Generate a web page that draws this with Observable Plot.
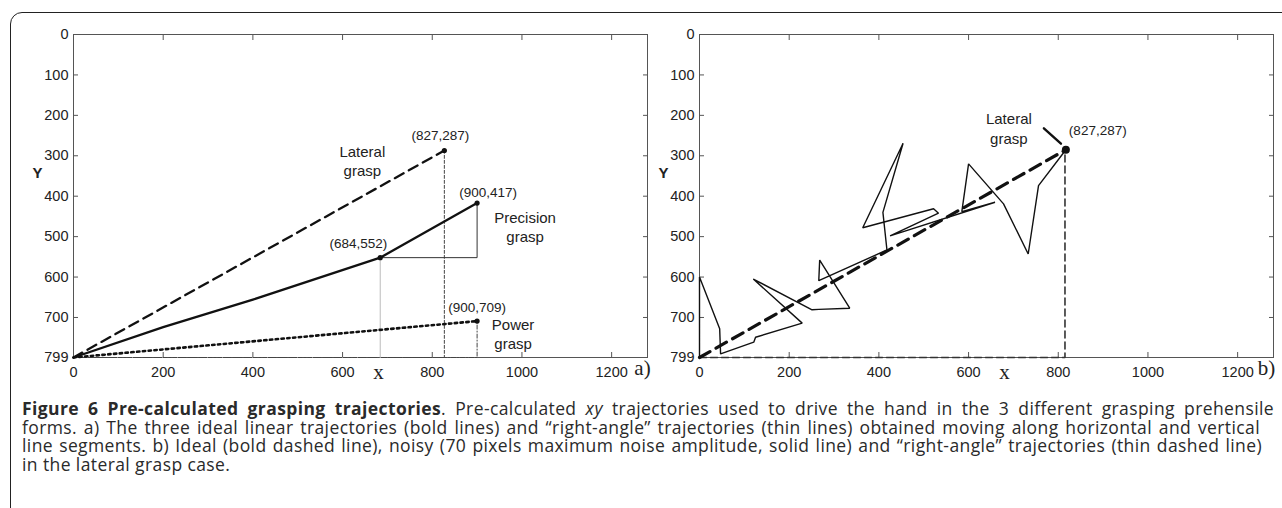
<!DOCTYPE html>
<html><head><meta charset="utf-8">
<script src="https://cdn.jsdelivr.net/npm/d3@7"></script>
<script src="https://cdn.jsdelivr.net/npm/@observablehq/plot@0.6"></script>
<style>
html,body{margin:0;padding:0;background:#fff;width:1282px;height:508px;overflow:hidden;position:relative;}
#box{position:absolute;left:10px;top:12px;width:1300px;height:540px;border:1.6px solid #222;border-radius:12px;box-sizing:border-box;}
#left{position:absolute;left:0;top:0;}
#right{position:absolute;left:630px;top:0;}
#caption{position:absolute;left:22px;top:399px;font-family:"Open Sans",sans-serif;font-size:17.5px;letter-spacing:0.4px;line-height:18.6px;color:#2a2a2a;}
#caption div{white-space:nowrap;text-align:justify;text-align-last:justify;}
#caption div.last{text-align:left;text-align-last:left;}
</style>
</head><body>
<div id="box"></div>
<div id="left"></div>
<div id="right"></div>
<div id="caption">
<div style="width:1252px"><b>Figure 6 Pre-calculated grasping trajectories</b>. Pre-calculated <i>xy</i> trajectories used to drive the hand in the 3 different grasping prehensile</div>
<div style="width:1238px">forms. a) The three ideal linear trajectories (bold lines) and “right-angle” trajectories (thin lines) obtained moving along horizontal and vertical</div>
<div style="width:1240px">line segments. b) Ideal (bold dashed line), noisy (70 pixels maximum noise amplitude, solid line) and “right-angle” trajectories (thin dashed line)</div>
<div class="last">in the lateral grasp case.</div>
</div>
<script>
// ---- data ----
const xTicks = [0, 200, 400, 600, 800, 1000, 1200];
const yTicks = [0, 100, 200, 300, 400, 500, 600, 700, 799];

// panel a: ideal trajectories
const lateralIdeal = [[0, 799], [827, 287]];
const precisionIdeal = [[0, 799], [200, 724], [400, 656], [684, 552], [900, 417]];
const powerIdeal = [[0, 799], [900, 709]];
// panel a: right-angle trajectories
const lateralRightAngle = [[0, 799], [827, 799], [827, 287]];
const precisionBase = [[0, 799], [684, 799]];
const precisionRise = [[684, 799], [684, 552]];
const precisionStep = [[684, 552], [900, 552], [900, 417]];
const powerRightAngle = [[0, 799], [900, 799], [900, 709]];
// panel a: labelled points
const lateralTarget = [827, 287];
const precisionVia = [684, 552];
const precisionTarget = [900, 417];
const powerTarget = [900, 709];

// panel b (lateral grasp)
const idealB = [[0, 799], [817, 285]];
const rightAngleB = [[0, 799], [815, 799], [815, 285]];
const noisyB = [[0, 799], [0, 600], [45, 728], [47, 790], [121, 761], [125, 749], [229, 714], [120, 605],
  [251, 681], [266, 680], [335, 677], [268, 558], [266, 609], [418, 533], [409, 440], [454, 269],
  [364, 478], [522, 431], [533, 442], [425, 498], [659, 415], [585, 438], [600, 320], [678, 419],
  [733, 543], [756, 374], [817, 285]];
const endB = [817, 285];
const pointerB = [[768, 232], [806, 270]];

const names = {lateral: "Lateral\ngrasp", precision: "Precision\ngrasp", power: "Power\ngrasp"};
const fmt = (p) => `(${p[0]},${p[1]})`;
const plain = (d) => `${d}`;

// ---- shared layout ----
const font = "'Liberation Sans', Arial, sans-serif";
function axes() {
  return [
    Plot.frame({stroke: "#555", strokeWidth: 1}),
    Plot.axisX(xTicks, {anchor: "bottom", tickSize: 0, tickPadding: 9, tickFormat: plain, fontSize: 14.5, fill: "#222", label: null}),
    Plot.axisX(xTicks, {anchor: "bottom", tickSize: -5, fill: "none", stroke: "#555", label: null}),
    Plot.axisX(xTicks, {anchor: "top", tickSize: -5, fill: "none", stroke: "#555", label: null}),
    Plot.axisY(yTicks, {anchor: "left", tickSize: 0, tickPadding: 5, tickFormat: plain, fontSize: 14.5, fill: "#222", label: null}),
    Plot.axisY(yTicks, {anchor: "left", tickSize: -5, fill: "none", stroke: "#555", label: null}),
    Plot.axisY(yTicks, {anchor: "right", tickSize: -5, fill: "none", stroke: "#555", label: null}),
    Plot.text(["Y"], {frameAnchor: "left", dx: -41, dy: -23, fontSize: 15, fontWeight: "bold", fill: "#222"}),
    Plot.text(["x"], {frameAnchor: "bottom", dx: 18, dy: 21, fontSize: 21, fontFamily: "'Liberation Serif', serif", fill: "#222"})
  ];
}

const left = Plot.plot({
  width: 655, height: 395,
  marginLeft: 73, marginRight: 8, marginTop: 34, marginBottom: 38,
  x: {domain: [0, 1280]},
  y: {domain: [0, 799], reverse: true},
  style: {fontFamily: font, fontSize: "14.5px", color: "#222", background: "transparent", overflow: "visible"},
  marks: [
    ...axes(),
    // right-angle (thin) trajectories
    Plot.line(precisionBase, {stroke: "#888", strokeWidth: 1}),
    Plot.line(lateralRightAngle, {stroke: "#444", strokeWidth: 1, strokeDasharray: "3,2"}),
    Plot.line(powerRightAngle, {stroke: "#444", strokeWidth: 1, strokeDasharray: "4,2,1,2"}),
    Plot.line(precisionRise, {stroke: "#bbb", strokeWidth: 1}),
    Plot.line(precisionStep, {stroke: "#333", strokeWidth: 1}),
    // ideal (bold) trajectories
    Plot.line(lateralIdeal, {stroke: "#111", strokeWidth: 2.3, strokeDasharray: "10,6"}),
    Plot.line(precisionIdeal, {stroke: "#111", strokeWidth: 2.3}),
    Plot.line(powerIdeal, {stroke: "#111", strokeWidth: 2.6, strokeDasharray: "2.4,3.4"}),
    Plot.dot([lateralTarget, precisionVia, precisionTarget, powerTarget], {r: 2.6, fill: "#111"}),
    // labels
    Plot.text([lateralTarget], {text: fmt, dx: -4, dy: -15, fontSize: 13.5, fill: "#222"}),
    Plot.text([precisionTarget], {text: fmt, dx: 11, dy: -10, fontSize: 13.5, fill: "#222"}),
    Plot.text([precisionVia], {text: fmt, textAnchor: "end", dx: 7, dy: -14, fontSize: 13.5, fill: "#222"}),
    Plot.text([powerTarget], {text: fmt, dx: 0, dy: -13, fontSize: 13.5, fill: "#222"}),
    Plot.text([lateralTarget], {text: () => names.lateral, dx: -82, dy: 10, fontSize: 15, lineHeight: 1.27, fill: "#222"}),
    Plot.text([precisionTarget], {text: () => names.precision, dx: 48, dy: 23, fontSize: 15, lineHeight: 1.27, fill: "#222"}),
    Plot.text([powerTarget], {text: () => names.power, dx: 36, dy: 12, fontSize: 15, lineHeight: 1.27, fill: "#222"}),
    Plot.text(["a)"], {frameAnchor: "bottom-right", textAnchor: "middle", dx: -5, dy: 17, fontSize: 21, fontFamily: "'Liberation Serif', serif", fill: "#222"})
  ]
});
document.getElementById("left").append(left);

const right = Plot.plot({
  width: 650, height: 395,
  marginLeft: 69, marginRight: 7, marginTop: 34, marginBottom: 38,
  x: {domain: [0, 1280]},
  y: {domain: [0, 799], reverse: true},
  style: {fontFamily: font, fontSize: "14.5px", color: "#222", background: "transparent", overflow: "visible"},
  marks: [
    ...axes(),
    Plot.line(rightAngleB, {stroke: "#333", strokeWidth: 1.6, strokeDasharray: "7,4"}),
    Plot.line(noisyB, {stroke: "#111", strokeWidth: 1.4, strokeLinejoin: "miter"}),
    Plot.line(idealB, {stroke: "#111", strokeWidth: 3.2, strokeDasharray: "12,7"}),
    Plot.line(pointerB, {stroke: "#111", strokeWidth: 2.4}),
    Plot.dot([endB], {r: 4, fill: "#111"}),
    Plot.text([lateralTarget], {text: fmt, x: () => endB[0], y: () => endB[1], textAnchor: "start", dx: 3, dy: -19, fontSize: 13.5, fill: "#222"}),
    Plot.text([endB], {text: () => names.lateral, dx: -57, dy: -22, fontSize: 15, lineHeight: 1.3, fill: "#222"}),
    Plot.text(["b)"], {frameAnchor: "bottom-right", textAnchor: "middle", dx: -7, dy: 17, fontSize: 21, fontFamily: "'Liberation Serif', serif", fill: "#222"})
  ]
});
document.getElementById("right").append(right);
</script>
</body></html>
